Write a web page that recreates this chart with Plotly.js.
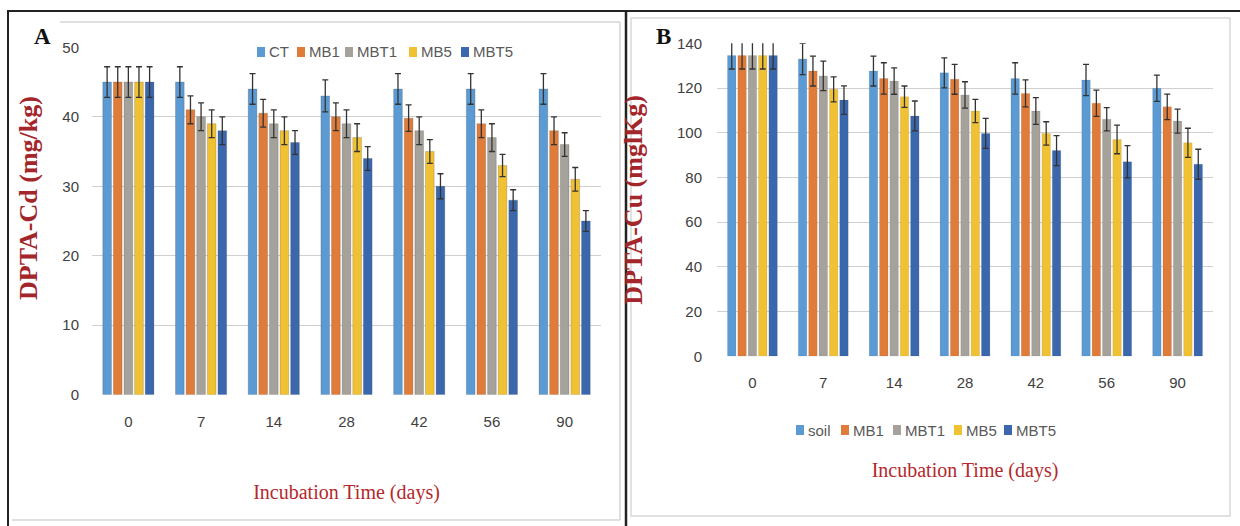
<!DOCTYPE html>
<html>
<head>
<meta charset="utf-8">
<script src="https://cdn.plot.ly/plotly-3.0.1.min.js"></script>
<style>html,body{margin:0;padding:0;background:#fff;}#chart{width:1240px;height:526px;}</style>
</head>
<body>
<div id="chart"></div>
<script>
// ---- data ----
const days = ['0', '7', '14', '28', '42', '56', '90'];

// Panel A: DPTA-Cd (mg/kg)
const seriesA = ['CT', 'MB1', 'MBT1', 'MB5', 'MBT5'];
const cd_CT   = [45, 45, 44, 43, 44, 44, 44];
const cd_MB1  = [45, 41, 40.5, 40, 39.8, 39, 38];
const cd_MBT1 = [45, 40, 39, 39, 38, 37, 36];
const cd_MB5  = [45, 39, 38, 37, 35, 33, 31];
const cd_MBT5 = [45, 38, 36.3, 34, 30, 28, 25];
const cdErr_CT   = [2.2, 2.2, 2.2, 2.3, 2.2, 2.2, 2.2];
const cdErr_MB1  = [2.2, 2.0, 2.0, 2.0, 1.9, 2.0, 2.0];
const cdErr_MBT1 = [2.2, 2.0, 2.0, 2.0, 2.0, 2.0, 1.7];
const cdErr_MB5  = [2.2, 2.0, 2.0, 2.0, 1.7, 1.6, 1.7];
const cdErr_MBT5 = [2.2, 2.0, 1.7, 1.7, 1.8, 1.5, 1.5];

// Panel B: DPTA-Cu (mg/Kg)
const seriesB = ['soil', 'MB1', 'MBT1', 'MB5', 'MBT5'];
const cu_soil = [134.5, 133, 127.6, 126.8, 124.3, 123.6, 119.9];
const cu_MB1  = [134.5, 127.6, 124.3, 123.9, 117.6, 113.2, 111.6];
const cu_MBT1 = [134.5, 125.4, 123.1, 116.9, 109.7, 106, 105.2];
const cu_MB5  = [134.5, 119.4, 116.1, 109.7, 99.7, 97, 95.5];
const cu_MBT5 = [134.5, 114.6, 107.5, 99.7, 92, 87, 85.9];
const cuErr_soil = [6, 7, 6.7, 6.7, 7, 7, 5.9];
const cuErr_MB1  = [6, 6.7, 7, 6.7, 6, 5.9, 5.7];
const cuErr_MBT1 = [6, 6.6, 5.9, 5.9, 6, 5.2, 5.4];
const cuErr_MB5  = [6, 5.6, 4.8, 5.2, 5.2, 6.4, 6.5];
const cuErr_MBT5 = [6, 6.4, 6.7, 6.7, 6.7, 7.2, 6.7];

const colors = ['#5b9ad2', '#e07c3a', '#a5a29c', '#f0c133', '#3b67ac'];

// ---- traces ----
const valsA = [cd_CT, cd_MB1, cd_MBT1, cd_MB5, cd_MBT5];
const errsA = [cdErr_CT, cdErr_MB1, cdErr_MBT1, cdErr_MB5, cdErr_MBT5];
const valsB = [cu_soil, cu_MB1, cu_MBT1, cu_MB5, cu_MBT5];
const errsB = [cuErr_soil, cuErr_MB1, cuErr_MBT1, cuErr_MB5, cuErr_MBT5];

const traces = [];
seriesA.forEach((name, i) => {
  traces.push({
    type: 'bar', name: name, x: days, y: valsA[i],
    xaxis: 'x', yaxis: 'y', showlegend: false,
    marker: {color: colors[i], line: {color: 'rgba(60,60,60,0.35)', width: 0.6}},
    error_y: {type: 'data', array: errsA[i], visible: true, color: '#333', thickness: 1.3, width: 3}
  });
});
seriesB.forEach((name, i) => {
  traces.push({
    type: 'bar', name: name, x: days, y: valsB[i],
    xaxis: 'x2', yaxis: 'y2', showlegend: false,
    marker: {color: colors[i], line: {color: 'rgba(60,60,60,0.2)', width: 0.5}},
    error_y: {type: 'data', array: errsB[i], visible: true, color: '#333', thickness: 1.3, width: 3}
  });
});

const W = 1240, H = 526;
const px = v => v / W;
const py = v => 1 - v / H;

const sansFam = '"Liberation Sans", Arial, sans-serif';
const tickFont = {family: sansFam, size: 15, color: '#404040'};
const yTitleFont = {family: '"Liberation Serif", "Times New Roman", serif', size: 26, color: '#a3262a', weight: 'bold'};
const xTitleFont = {family: '"Liberation Serif", "Times New Roman", serif', size: 20, color: '#b3282c'};

// compact legends (Excel-style: small square right before the label)
const legendA = {left: [257, 297, 345, 409, 461], y: 52};
const legendB = {left: [796, 841, 893, 954, 1004], y: 430};
const shapes = [];
const annotations = [];
function addLegend(names, cfg) {
  names.forEach((name, i) => {
    const x0 = cfg.left[i];
    shapes.push({type: 'rect', xref: 'paper', yref: 'paper',
      x0: px(x0), x1: px(x0 + 8), y0: py(cfg.y + 5), y1: py(cfg.y - 5),
      fillcolor: colors[i], line: {width: 0}});
    annotations.push({text: name, xref: 'paper', yref: 'paper', x: px(x0 + 10), y: py(cfg.y),
      xanchor: 'left', yanchor: 'middle', showarrow: false,
      font: {family: sansFam, size: 15, color: '#595959'}});
  });
}
addLegend(seriesA, legendA);
addLegend(seriesB, legendB);

annotations.push(
  {text: 'DPTA-Cd (mg/kg)', xref: 'paper', yref: 'paper', x: px(28), y: py(198), textangle: -90,
   xanchor: 'center', yanchor: 'middle', showarrow: false, font: yTitleFont},
  {text: 'A', xref: 'paper', yref: 'paper', x: px(42), y: py(37), xanchor: 'center', yanchor: 'middle', showarrow: false,
   font: {family: '"Liberation Serif", serif', size: 23, color: '#111', weight: 'bold'}},
  {text: 'B', xref: 'paper', yref: 'paper', x: px(663), y: py(37), xanchor: 'center', yanchor: 'middle', showarrow: false,
   font: {family: '"Liberation Serif", serif', size: 23, color: '#111', weight: 'bold'}}
);

shapes.push(
  // inner light borders
  {type: 'line', xref: 'paper', yref: 'paper', x0: px(60), x1: px(620), y0: py(22), y1: py(22), line: {color: '#d4d4d4', width: 1.5}},
  {type: 'line', xref: 'paper', yref: 'paper', x0: px(620), x1: px(620), y0: py(22), y1: py(520), line: {color: '#d4d4d4', width: 1.5}},
  {type: 'line', xref: 'paper', yref: 'paper', x0: px(12), x1: px(620), y0: py(520), y1: py(520), line: {color: '#d4d4d4', width: 1.5}},
  {type: 'rect', xref: 'paper', yref: 'paper', x0: px(631), x1: px(1230), y0: py(516), y1: py(18), line: {color: '#d8d8d8', width: 1.5}},
  // outer black frame
  {type: 'line', xref: 'paper', yref: 'paper', x0: px(7), x1: 1, y0: py(11), y1: py(11), line: {color: '#222', width: 2}},
  {type: 'line', xref: 'paper', yref: 'paper', x0: px(8), x1: px(8), y0: py(11), y1: 0, line: {color: '#222', width: 2}},
  {type: 'line', xref: 'paper', yref: 'paper', x0: px(626), x1: px(626), y0: py(11), y1: 0, line: {color: '#222', width: 2.5}}
);

const layout = {
  width: W, height: H,
  margin: {l: 0, r: 0, t: 0, b: 0},
  paper_bgcolor: '#ffffff', plot_bgcolor: 'rgba(0,0,0,0)',
  showlegend: false,
  barmode: 'group',
  bargap: 0.27, bargroupgap: 0.18,
  xaxis: {
    domain: [px(92), px(601)], anchor: 'y', type: 'category',
    showgrid: false, showline: false, ticks: '', zeroline: false,
    tickfont: tickFont, ticklabelstandoff: 16,
    title: {text: 'Incubation Time (days)', font: xTitleFont, standoff: 56}
  },
  yaxis: {
    domain: [py(394.7), py(47.3)], anchor: 'x', range: [0, 50],
    tickvals: [0, 10, 20, 30, 40, 50], showgrid: true, gridcolor: '#d0d0d0', gridwidth: 1,
    zeroline: false, showline: false, ticks: '',
    tickfont: tickFont, ticklabelstandoff: 12
  },
  xaxis2: {
    domain: [px(717), px(1213)], anchor: 'y2', type: 'category',
    showgrid: false, showline: false, ticks: '', zeroline: false,
    tickfont: tickFont, ticklabelstandoff: 16,
    title: {text: 'Incubation Time (days)', font: xTitleFont, standoff: 72}
  },
  yaxis2: {
    domain: [py(356.3), py(43.3)], anchor: 'x2', range: [0, 140],
    tickvals: [0, 20, 40, 60, 80, 100, 120, 140], showgrid: true, gridcolor: '#d0d0d0', gridwidth: 1,
    zeroline: false, showline: false, ticks: '',
    tickfont: tickFont, ticklabelstandoff: 14,
    title: {text: 'DPTA-Cu (mglKg)', font: yTitleFont, standoff: 26}
  },
  annotations: annotations,
  shapes: shapes
};

Plotly.newPlot('chart', traces, layout, {displayModeBar: false, staticPlot: true});
</script>
</body>
</html>
